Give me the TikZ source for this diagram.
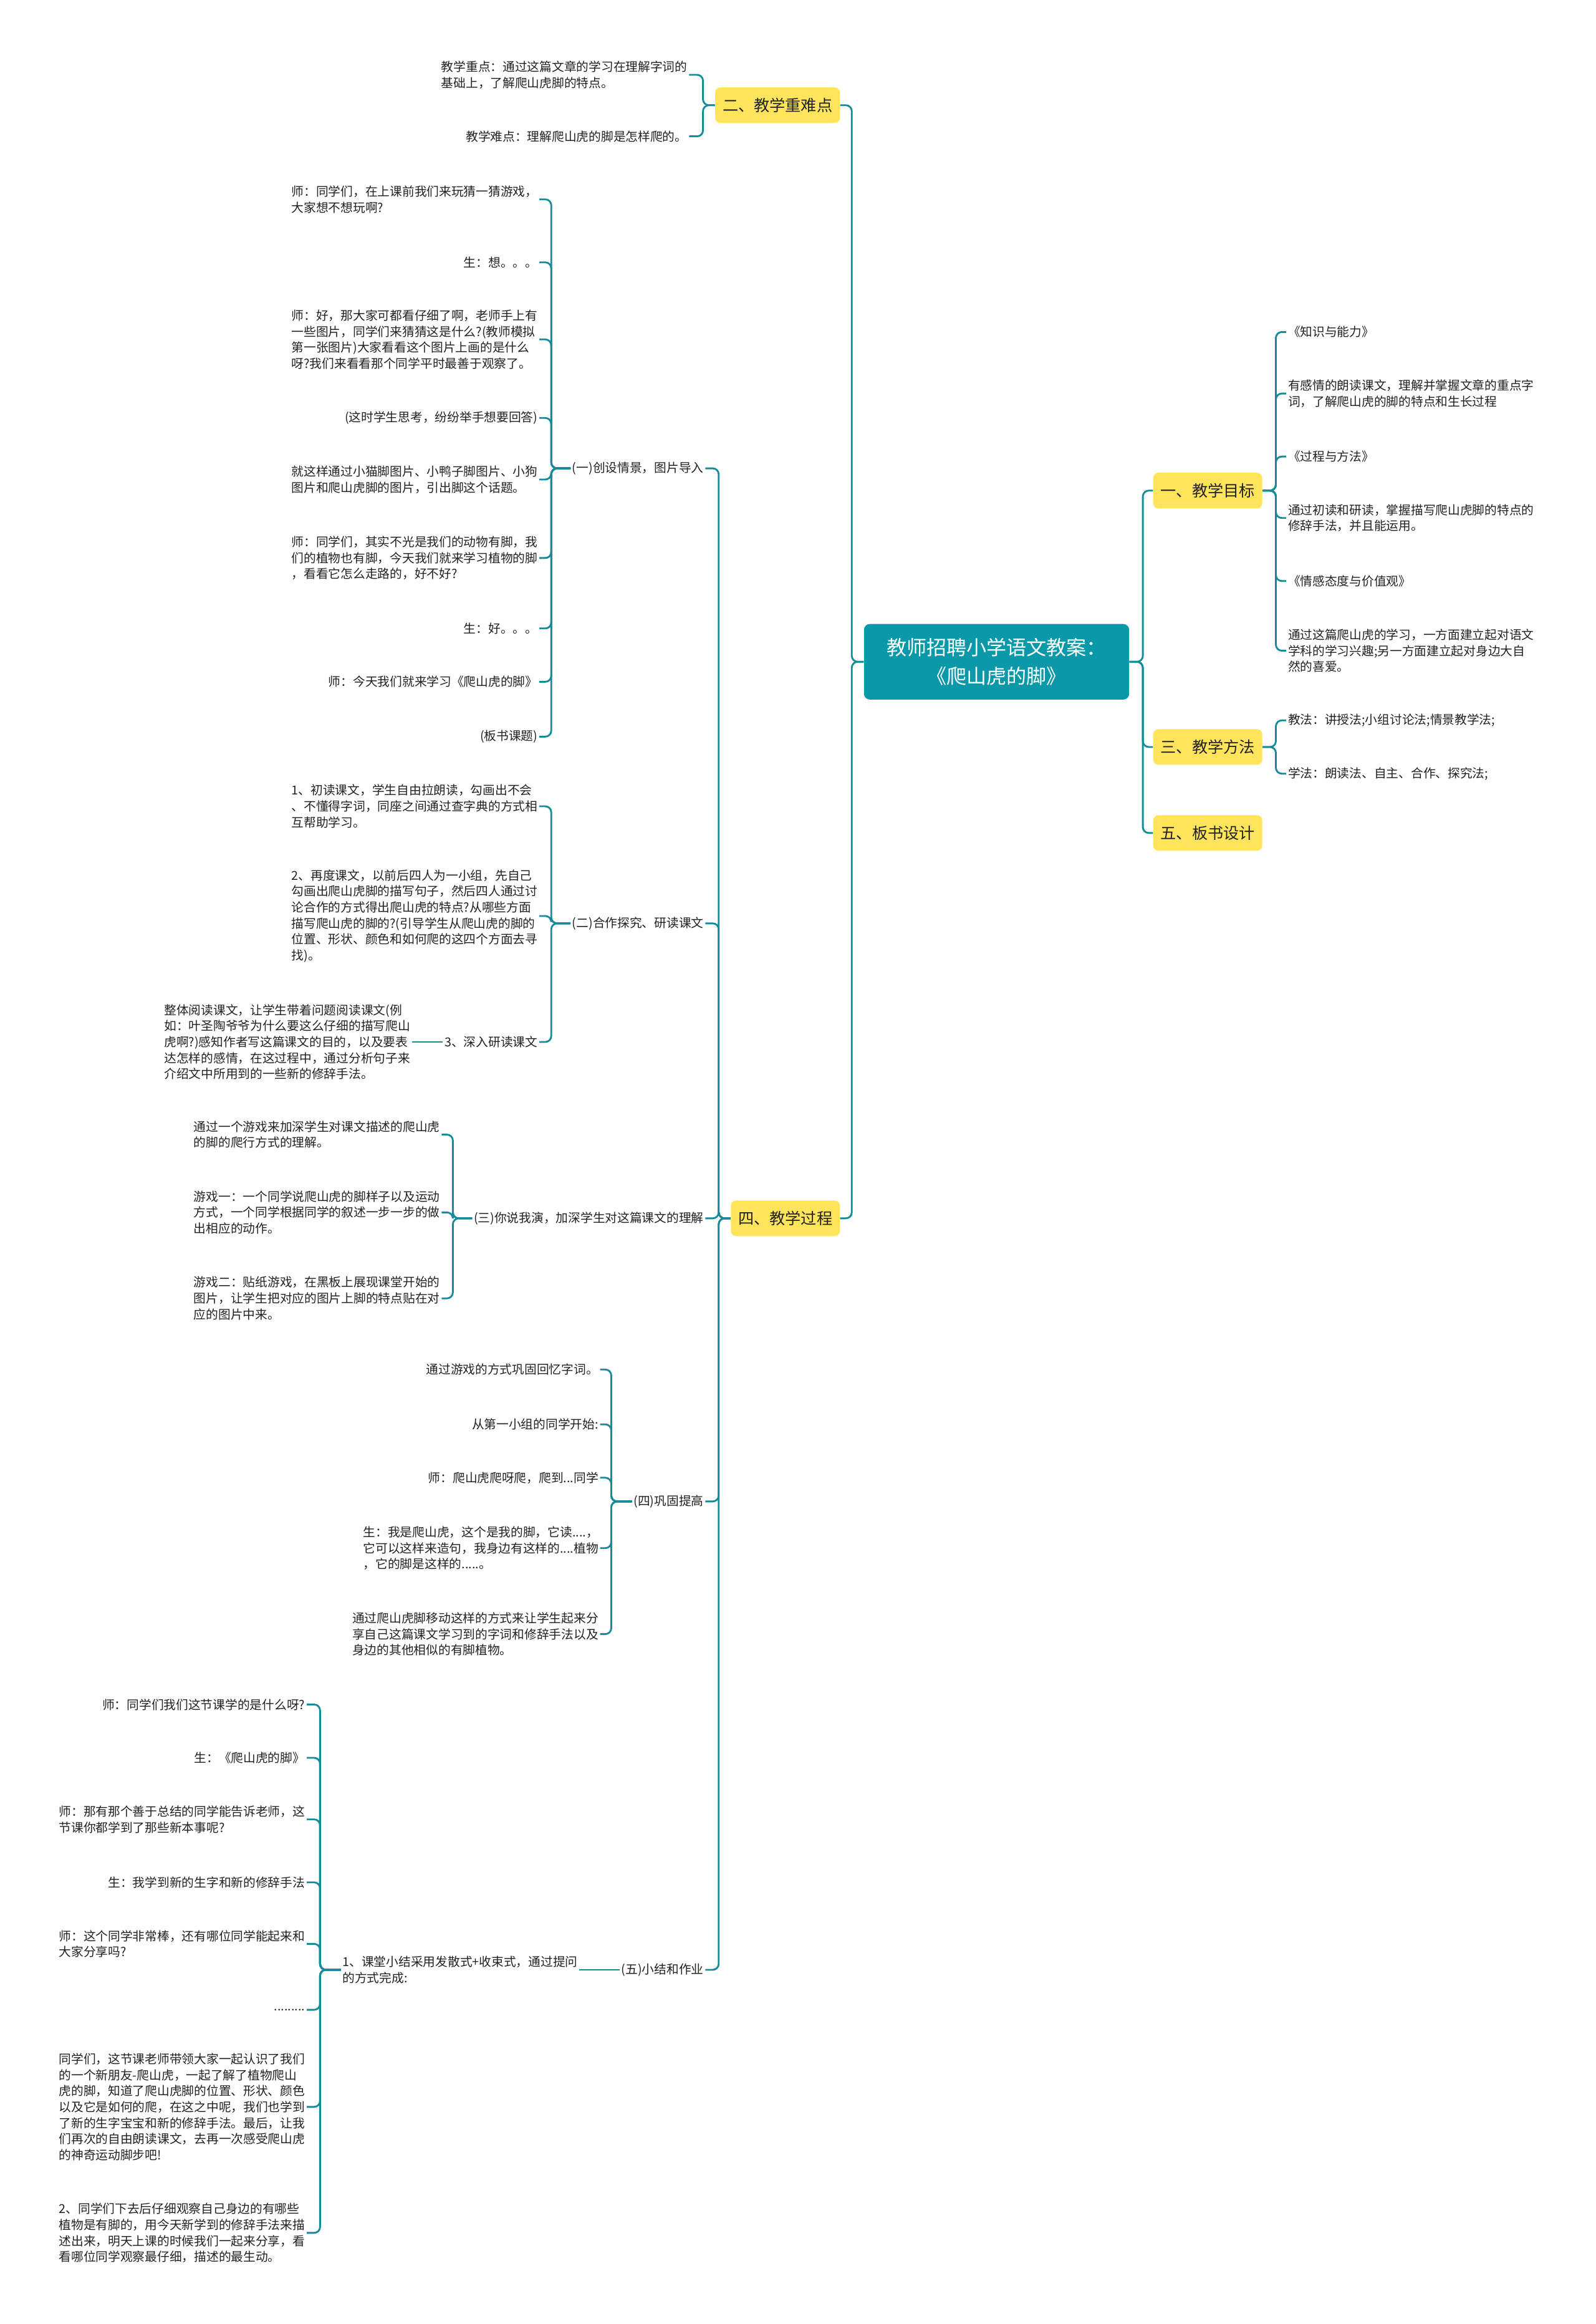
\documentclass[tikz,border=0pt]{standalone}
\usepackage{fontspec}
\setmainfont{Noto Sans CJK SC}
\definecolor{teal}{HTML}{0B99AA}
\definecolor{branch}{HTML}{168B9A}
\definecolor{sun}{HTML}{FFE45C}
\definecolor{txt}{HTML}{222222}

\begin{document}
\begin{tikzpicture}[x=1pt, y=-1pt,
  leaf/.style={font=\fontsize{8.3}{10.8}\selectfont, text=txt, align=left, inner sep=1pt},
  lft/.style={leaf, anchor=east},
  rgt/.style={leaf, anchor=west},
  topic/.style={fill=sun, rounded corners=3.5pt, minimum height=24, inner xsep=5pt, text=txt, font=\fontsize{10.6}{13}\selectfont},
  titlebox/.style={fill=teal, rounded corners=4pt, minimum width=179, minimum height=51, text=white, align=center, font=\fontsize{13.5}{19}\selectfont},
  link/.style={draw=branch, line width=1.2pt, rounded corners=4pt}]
\fill[white] (0,0) rectangle (1077,1568);
\useasboundingbox (0,0) rectangle (1077,1568);

\node[titlebox] (title) at (672.5,446.5) {教师招聘小学语文教案：\\《爬山虎的脚》};

\node[topic, anchor=west] (t1) at (778,331) {一、教学目标};
\node[topic, anchor=east] (t2) at (567,71) {二、教学重难点};
\node[topic, anchor=west] (t3) at (778,504) {三、教学方法};
\node[topic, anchor=east] (t4) at (567,822) {四、教学过程};
\node[topic, anchor=west] (t5) at (778,562) {五、板书设计};

\node[rgt] (mb1) at (868,224) {《知识与能力》};
\node[rgt] (mb2) at (868,265.5) {有感情的朗读课文，理解并掌握文章的重点字\\词，了解爬山虎的脚的特点和生长过程};
\node[rgt] (mb3) at (868,308) {《过程与方法》};
\node[rgt] (mb4) at (868,349.5) {通过初读和研读，掌握描写爬山虎脚的特点的\\修辞手法，并且能运用。};
\node[rgt] (mb5) at (868,392) {《情感态度与价值观》};
\node[rgt] (mb6) at (868,439) {通过这篇爬山虎的学习，一方面建立起对语文\\学科的学习兴趣;另一方面建立起对身边大自\\然的喜爱。};

\node[rgt] (ff1) at (868,486) {教法：讲授法;小组讨论法;情景教学法;};
\node[rgt] (ff2) at (868,522) {学法：朗读法、自主、合作、探究法;};

\node[lft] (zd1) at (465,50.5) {教学重点：通过这篇文章的学习在理解字词的\\基础上，了解爬山虎脚的特点。};
\node[lft] (zd2) at (465,92) {教学难点：理解爬山虎的脚是怎样爬的。};

\node[lft] (b1) at (476,316) {(一)创设情景，图片导入};
\node[lft] (b2) at (476,623) {(二)合作探究、研读课文};
\node[lft] (b3) at (476,822) {(三)你说我演，加深学生对这篇课文的理解};
\node[lft] (b4) at (476,1013) {(四)巩固提高};
\node[lft] (b5) at (476,1329) {(五)小结和作业};

\node[lft] (cj1) at (364,134.5) {师：同学们，在上课前我们来玩猜一猜游戏，\\大家想不想玩啊?};
\node[lft] (cj2) at (364,177) {生：想。。。};
\node[lft] (cj3) at (364,229) {师：好，那大家可都看仔细了啊，老师手上有\\一些图片，同学们来猜猜这是什么?(教师模拟\\第一张图片)大家看看这个图片上画的是什么\\呀?我们来看看那个同学平时最善于观察了。};
\node[lft] (cj4) at (364,282) {(这时学生思考，纷纷举手想要回答)};
\node[lft] (cj5) at (364,323.5) {就这样通过小猫脚图片、小鸭子脚图片、小狗\\图片和爬山虎脚的图片，引出脚这个话题。};
\node[lft] (cj6) at (364,376.5) {师：同学们，其实不光是我们的动物有脚，我\\们的植物也有脚，今天我们就来学习植物的脚\\，看看它怎么走路的，好不好?};
\node[lft] (cj7) at (364,424) {生：好。。。};
\node[lft] (cj8) at (364,460) {师：今天我们就来学习《爬山虎的脚》};
\node[lft] (cj9) at (364,497) {(板书课题)};

\node[lft] (hz1) at (364,544) {1、初读课文，学生自由拉朗读，勾画出不会\\、不懂得字词，同座之间通过查字典的方式相\\互帮助学习。};
\node[lft] (hz2) at (364,618) {2、再度课文，以前后四人为一小组，先自己\\勾画出爬山虎脚的描写句子，然后四人通过讨\\论合作的方式得出爬山虎的特点?从哪些方面\\描写爬山虎的脚的?(引导学生从爬山虎的脚的\\位置、形状、颜色和如何爬的这四个方面去寻\\找)。};
\node[lft] (hz3) at (364,703) {3、深入研读课文};
\node[lft] (hz3a) at (278,703) {整体阅读课文，让学生带着问题阅读课文(例\\如：叶圣陶爷爷为什么要这么仔细的描写爬山\\虎啊?)感知作者写这篇课文的目的，以及要表\\达怎样的感情，在这过程中，通过分析句子来\\介绍文中所用到的一些新的修辞手法。};

\node[lft] (ny1) at (298,765.5) {通过一个游戏来加深学生对课文描述的爬山虎\\的脚的爬行方式的理解。};
\node[lft] (ny2) at (298,818) {游戏一：一个同学说爬山虎的脚样子以及运动\\方式，一个同学根据同学的叙述一步一步的做\\出相应的动作。};
\node[lft] (ny3) at (298,876) {游戏二：贴纸游戏，在黑板上展现课堂开始的\\图片，让学生把对应的图片上脚的特点贴在对\\应的图片中来。};

\node[lft] (gg1) at (405,924) {通过游戏的方式巩固回忆字词。};
\node[lft] (gg2) at (405,961) {从第一小组的同学开始:};
\node[lft] (gg3) at (405,997) {师：爬山虎爬呀爬，爬到...同学};
\node[lft] (gg4) at (405,1044.5) {生：我是爬山虎，这个是我的脚，它读....，\\它可以这样来造句，我身边有这样的....植物\\，它的脚是这样的.....。};
\node[lft] (gg5) at (405,1102.5) {通过爬山虎脚移动这样的方式来让学生起来分\\享自己这篇课文学习到的字词和修辞手法以及\\身边的其他相似的有脚植物。};

\node[lft] (xj) at (391,1329) {1、课堂小结采用发散式+收束式，通过提问\\的方式完成:};
\node[lft] (x1) at (207,1150) {师：同学们我们这节课学的是什么呀?};
\node[lft] (x2) at (207,1186) {生：《爬山虎的脚》};
\node[lft] (x3) at (207,1227.5) {师：那有那个善于总结的同学能告诉老师，这\\节课你都学到了那些新本事呢?};
\node[lft] (x4) at (207,1270) {生：我学到新的生字和新的修辞手法};
\node[lft] (x5) at (207,1311.5) {师：这个同学非常棒，还有哪位同学能起来和\\大家分享吗?};
\node[lft] (x6) at (207,1356) {.........};
\node[lft] (x7) at (207,1421.5) {同学们，这节课老师带领大家一起认识了我们\\的一个新朋友-爬山虎，一起了解了植物爬山\\虎的脚，知道了爬山虎脚的位置、形状、颜色\\以及它是如何的爬，在这之中呢，我们也学到\\了新的生字宝宝和新的修辞手法。最后，让我\\们再次的自由朗读课文，去再一次感受爬山虎\\的神奇运动脚步吧!};
\node[lft] (x8) at (207,1506.5) {2、同学们下去后仔细观察自己身边的有哪些\\植物是有脚的，用今天新学到的修辞手法来描\\述出来，明天上课的时候我们一起来分享，看\\看哪位同学观察最仔细，描述的最生动。};

\draw[link] (title.east) -- ++(9,0) |- (t1.west);
\draw[link] (title.east) -- ++(9,0) |- (t3.west);
\draw[link] (title.east) -- ++(9,0) |- (t5.west);
\draw[link] (title.west) -- ++(-8,0) |- (t2.east);
\draw[link] (title.west) -- ++(-8,0) |- (t4.east);

\draw[link] (t1.east) -- ++(9,0) |- (mb1.west);
\draw[link] (t1.east) -- ++(9,0) |- (mb2.west);
\draw[link] (t1.east) -- ++(9,0) |- (mb3.west);
\draw[link] (t1.east) -- ++(9,0) |- (mb4.west);
\draw[link] (t1.east) -- ++(9,0) |- (mb5.west);
\draw[link] (t1.east) -- ++(9,0) |- (mb6.west);
\draw[link] (t3.east) -- ++(9,0) |- (ff1.west);
\draw[link] (t3.east) -- ++(9,0) |- (ff2.west);

\draw[link] (t2.west) -- ++(-8,0) |- (zd1.east);
\draw[link] (t2.west) -- ++(-8,0) |- (zd2.east);

\draw[link] (t4.west) -- ++(-8,0) |- (b1.east);
\draw[link] (t4.west) -- ++(-8,0) |- (b2.east);
\draw[link] (t4.west) -- ++(-8,0) |- (b3.east);
\draw[link] (t4.west) -- ++(-8,0) |- (b4.east);
\draw[link] (t4.west) -- ++(-8,0) |- (b5.east);

\draw[link] (b1.west) -- ++(-13,0) |- (cj1.east);
\draw[link] (b1.west) -- ++(-13,0) |- (cj2.east);
\draw[link] (b1.west) -- ++(-13,0) |- (cj3.east);
\draw[link] (b1.west) -- ++(-13,0) |- (cj4.east);
\draw[link] (b1.west) -- ++(-13,0) |- (cj5.east);
\draw[link] (b1.west) -- ++(-13,0) |- (cj6.east);
\draw[link] (b1.west) -- ++(-13,0) |- (cj7.east);
\draw[link] (b1.west) -- ++(-13,0) |- (cj8.east);
\draw[link] (b1.west) -- ++(-13,0) |- (cj9.east);

\draw[link] (b2.west) -- ++(-13,0) |- (hz1.east);
\draw[link] (b2.west) -- ++(-13,0) |- (hz2.east);
\draw[link] (b2.west) -- ++(-13,0) |- (hz3.east);
\draw[link] (hz3.west) -- (hz3a.east);

\draw[link] (b3.west) -- ++(-13,0) |- (ny1.east);
\draw[link] (b3.west) -- ++(-13,0) |- (ny2.east);
\draw[link] (b3.west) -- ++(-13,0) |- (ny3.east);

\draw[link] (b4.west) -- ++(-14,0) |- (gg1.east);
\draw[link] (b4.west) -- ++(-14,0) |- (gg2.east);
\draw[link] (b4.west) -- ++(-14,0) |- (gg3.east);
\draw[link] (b4.west) -- ++(-14,0) |- (gg4.east);
\draw[link] (b4.west) -- ++(-14,0) |- (gg5.east);

\draw[link] (b5.west) -- (xj.east);
\draw[link] (xj.west) -- ++(-14,0) |- (x1.east);
\draw[link] (xj.west) -- ++(-14,0) |- (x2.east);
\draw[link] (xj.west) -- ++(-14,0) |- (x3.east);
\draw[link] (xj.west) -- ++(-14,0) |- (x4.east);
\draw[link] (xj.west) -- ++(-14,0) |- (x5.east);
\draw[link] (xj.west) -- ++(-14,0) |- (x6.east);
\draw[link] (xj.west) -- ++(-14,0) |- (x7.east);
\draw[link] (xj.west) -- ++(-14,0) |- (x8.east);
\end{tikzpicture}
\end{document}
